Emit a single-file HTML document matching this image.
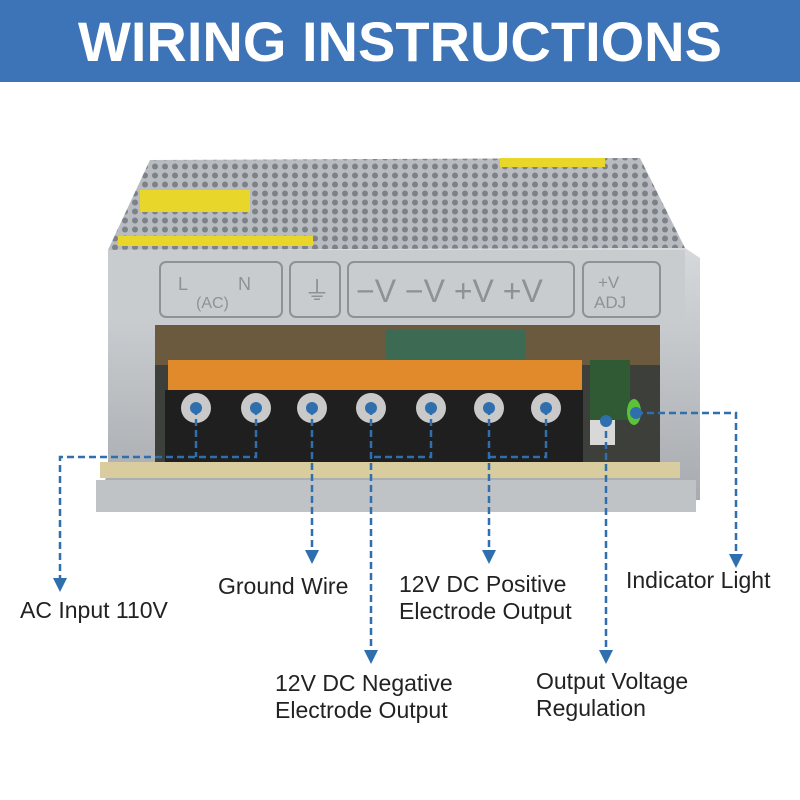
<!DOCTYPE html>
<html><head><style>
body{margin:0;width:800px;height:800px;background:#fff;position:relative;overflow:hidden;font-family:"Liberation Sans",sans-serif}
.hd{position:absolute;left:0;top:0;width:800px;height:82px;background:#3d74b8;color:#fff;font-weight:bold;font-size:56px;text-align:center;line-height:84px}
.t{position:absolute;font-size:23px;color:#222;line-height:27px}
</style></head><body>
<div class="hd">WIRING INSTRUCTIONS</div>
<svg width="800" height="800" style="position:absolute;left:0;top:0">
<defs>
<pattern id="h" width="10" height="9" patternUnits="userSpaceOnUse"><rect width="10" height="9" fill="#b8bcc0"/><circle cx="5" cy="4.5" r="3" fill="#7d8288"/></pattern>
<linearGradient id="g" x1="0" y1="0" x2="0" y2="1"><stop offset="0" stop-color="#d6d9dc"/><stop offset="1" stop-color="#a5a9ad"/></linearGradient>
</defs>
<polygon points="150,160 640,158 685,248 108,250" fill="url(#h)"/>
<rect x="140" y="190" width="110" height="22" fill="#e8d62a"/>
<rect x="118" y="236" width="195" height="10" fill="#e8d62a"/>
<rect x="500" y="158" width="105" height="9" fill="#e8d62a"/>
<polygon points="108,250 685,248 700,258 700,500 96,512 108,470" fill="url(#g)"/>
<rect x="96" y="480" width="600" height="32" fill="#bfc3c6"/>
<rect x="155" y="325" width="505" height="150" fill="#3d3f3a"/>
<rect x="155" y="325" width="505" height="40" fill="#6b5a3e"/>
<rect x="385" y="330" width="140" height="35" fill="#3c6a52"/>
<rect x="590" y="360" width="40" height="60" fill="#2f5a34"/>
<rect x="108" y="250" width="577" height="75" fill="#c9ccce"/>
<g fill="none" stroke="#8e9296" stroke-width="2">
<rect x="160" y="262" width="122" height="55" rx="6"/>
<rect x="290" y="262" width="50" height="55" rx="6"/>
<rect x="348" y="262" width="226" height="55" rx="6"/>
<rect x="583" y="262" width="77" height="55" rx="6"/>
</g>
<g fill="#8e9296" font-family="Liberation Sans" font-size="26">
<text x="178" y="290" font-size="18">L</text><text x="238" y="290" font-size="18">N</text><text x="196" y="308" font-size="16">(AC)</text>
<text x="304" y="300">⏚</text>
<text x="356" y="302" font-size="32">−V −V +V +V</text>
<text x="598" y="288" font-size="17">+V</text><text x="594" y="308" font-size="17">ADJ</text>
</g>
<rect x="168" y="360" width="414" height="32" fill="#e08a2c"/>
<rect x="165" y="390" width="418" height="75" fill="#1f1f1f"/>
<rect x="100" y="462" width="580" height="16" fill="#d9cc9f"/>
<g fill="#c9c9c9">
<circle cx="196" cy="408" r="15"/><circle cx="256" cy="408" r="15"/><circle cx="312" cy="408" r="15"/><circle cx="371" cy="408" r="15"/><circle cx="431" cy="408" r="15"/><circle cx="489" cy="408" r="15"/><circle cx="546" cy="408" r="15"/>
</g>
<rect x="590" y="420" width="25" height="25" fill="#d8d8d8"/>
<ellipse cx="634" cy="412" rx="7" ry="13" fill="#5bc23a"/>
<g stroke="#2f6fae" stroke-width="2.5" stroke-dasharray="7,4" fill="none">
<path d="M196,408 V457 M256,408 V457 H60 V580"/>
<path d="M312,408 V552"/>
<path d="M371,408 V652 M431,408 V457 H371"/>
<path d="M489,408 V552 M546,408 V457 H489"/>
<path d="M606,420 V652"/>
<path d="M636,413 H736 V556"/>
</g>
<g fill="#2f6fae">
<circle cx="196" cy="408" r="6"/><circle cx="256" cy="408" r="6"/><circle cx="312" cy="408" r="6"/><circle cx="371" cy="408" r="6"/><circle cx="431" cy="408" r="6"/><circle cx="489" cy="408" r="6"/><circle cx="546" cy="408" r="6"/><circle cx="606" cy="421" r="6"/><circle cx="636" cy="413" r="6"/>
<polygon points="53,578 67,578 60,592"/>
<polygon points="305,550 319,550 312,564"/>
<polygon points="364,650 378,650 371,664"/>
<polygon points="482,550 496,550 489,564"/>
<polygon points="599,650 613,650 606,664"/>
<polygon points="729,554 743,554 736,568"/>
</g>
</svg>
<div class="t" style="left:20px;top:597px">AC Input 110V</div>
<div class="t" style="left:218px;top:573px">Ground Wire</div>
<div class="t" style="left:275px;top:670px">12V DC Negative<br>Electrode Output</div>
<div class="t" style="left:399px;top:571px">12V DC Positive<br>Electrode Output</div>
<div class="t" style="left:536px;top:668px">Output Voltage<br>Regulation</div>
<div class="t" style="left:626px;top:567px">Indicator Light</div>
</body></html>
